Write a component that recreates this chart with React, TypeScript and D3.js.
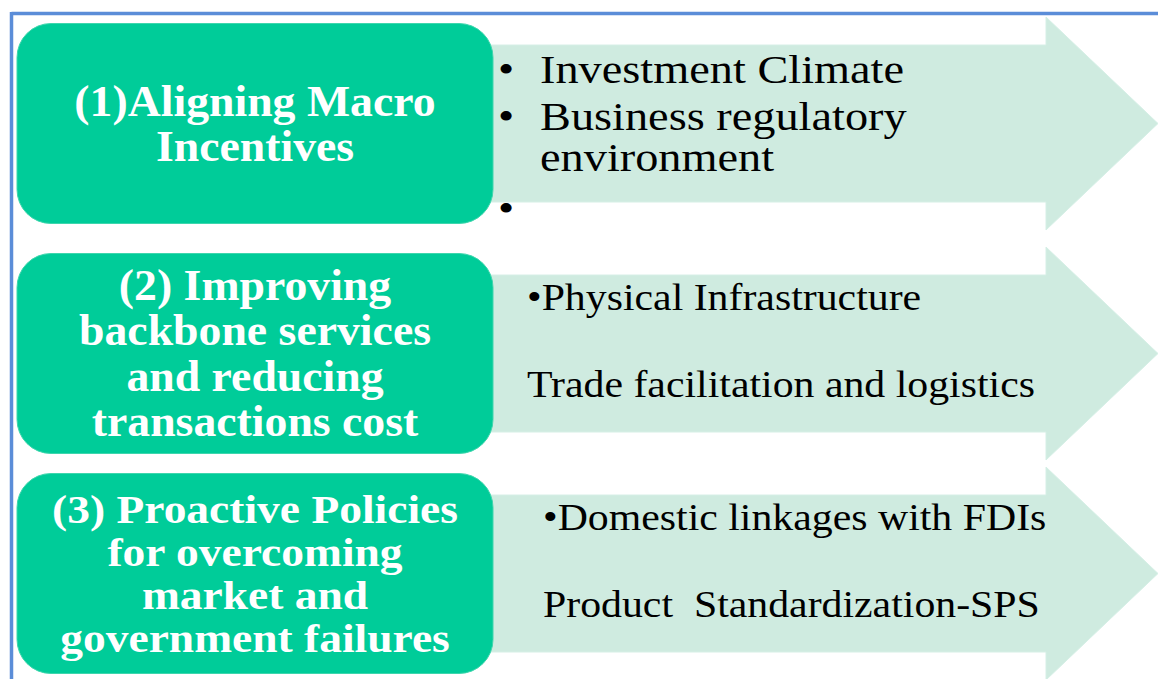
import React from "react";
import * as d3 from "d3";

// ---- content ----
const titles: string[][] = [
  ["(1)Aligning Macro", "Incentives"],
  ["(2) Improving", "backbone services", "and reducing", "transactions cost"],
  ["(3) Proactive Policies", "for overcoming", "market and", "government failures"],
];
const titleLineHeights: number[] = [45, 45.5, 43];

const detailTexts: string[][] = [
  ["Investment Climate", "Business regulatory", "environment", ""],
  ["•Physical Infrastructure", "Trade facilitation and logistics"],
  ["•Domestic linkages with FDIs", "Product  Standardization-SPS"],
];
const detailBullets: boolean[][] = [
  [true, true, false, true],
  [false, false],
  [false, false],
];
// baseline offset of each detail line relative to its row centre
const detailOffsets: number[][] = [
  [-41, 6, 47, 98],
  [-44, 43],
  [-44, 43],
];
const detailX: number[] = [540, 527, 543];

const rowCenters: number[] = [123.5, 353.5, 573.5];

// ---- layout ----
const W = 1158;
const H = 679;
const BOX_X0 = 17;
const BOX_X1 = 493;
const BOX_HALF = 100;
const SHAFT_X0 = 480;
const HEAD_X = 1046;
const TIP_X = 1158;
const SHAFT_HALF = 78.5;
const HEAD_HALF = 106.5;

const GREEN = "#00cc99";
const LIGHT = "#cfebe0";
const BLUE = "#5b8dd8";

function arrowPath(cy: number): string {
  const p = d3.path();
  p.moveTo(SHAFT_X0, cy - SHAFT_HALF);
  p.lineTo(HEAD_X, cy - SHAFT_HALF);
  p.lineTo(HEAD_X, cy - HEAD_HALF);
  p.lineTo(TIP_X, cy);
  p.lineTo(HEAD_X, cy + HEAD_HALF);
  p.lineTo(HEAD_X, cy + SHAFT_HALF);
  p.lineTo(SHAFT_X0, cy + SHAFT_HALF);
  p.closePath();
  return p.toString();
}

const FONT = "'Liberation Serif', 'Times New Roman', serif";
const TITLE_SIZE = [44, 44, 41];
const TITLE_SCALE = [1.04, 1.04, 1.11];
const DETAIL_SIZE = [41, 38, 38];
const DETAIL_SCALE = [1.13, 1.1, 1.1];

export default function App() {
  const rowIdx = d3.range(rowCenters.length);
  return (
    <svg
      width={W}
      height={H}
      viewBox={`0 0 ${W} ${H}`}
      style={{ position: "absolute", left: 0, top: 0, background: "#fff" }}
    >
      {/* frame */}
      <line x1={11.5} y1={13.5} x2={W} y2={13.5} stroke={BLUE} strokeWidth={3.5} />
      <line x1={11.5} y1={12} x2={11.5} y2={H} stroke={BLUE} strokeWidth={3.5} />

      {rowIdx.map((i) => {
        const cy = rowCenters[i];
        const lines = titles[i];
        const lh = titleLineHeights[i];
        const fs = TITLE_SIZE[i];
        const firstBase = cy - ((lines.length - 1) * lh) / 2 + fs * 0.33;
        const cx = (BOX_X0 + BOX_X1) / 2;
        return (
          <g key={i}>
            <path d={arrowPath(cy)} fill={LIGHT} stroke="#d6efe6" strokeWidth={1} />
            <rect
              x={BOX_X0}
              y={cy - BOX_HALF}
              width={BOX_X1 - BOX_X0}
              height={BOX_HALF * 2}
              rx={34}
              ry={34}
              fill={GREEN}
              stroke="#3ed6ad"
              strokeWidth={1}
            />
            {lines.map((t, j) => (
              <text
                key={j}
                transform={`translate(${cx},${firstBase + j * lh}) scale(${TITLE_SCALE[i]},1)`}
                textAnchor="middle"
                fontFamily={FONT}
                fontWeight="bold"
                fontSize={fs}
                fill="#ffffff"
              >
                {t}
              </text>
            ))}
            {detailTexts[i].map((t, j) => {
              const y = cy + detailOffsets[i][j];
              return (
                <g key={"d" + j}>
                  {detailBullets[i][j] && (
                    <text
                      transform={`translate(${498},${y}) scale(${DETAIL_SCALE[i]},1)`}
                      fontFamily={FONT}
                      fontSize={DETAIL_SIZE[i]}
                      fill="#000"
                    >
                      •
                    </text>
                  )}
                  <text
                    transform={`translate(${detailX[i]},${y}) scale(${DETAIL_SCALE[i]},1)`}
                    fontFamily={FONT}
                    fontSize={DETAIL_SIZE[i]}
                    fill="#000"
                    style={{ whiteSpace: "pre" }}
                  >
                    {t}
                  </text>
                </g>
              );
            })}
          </g>
        );
      })}
    </svg>
  );
}
